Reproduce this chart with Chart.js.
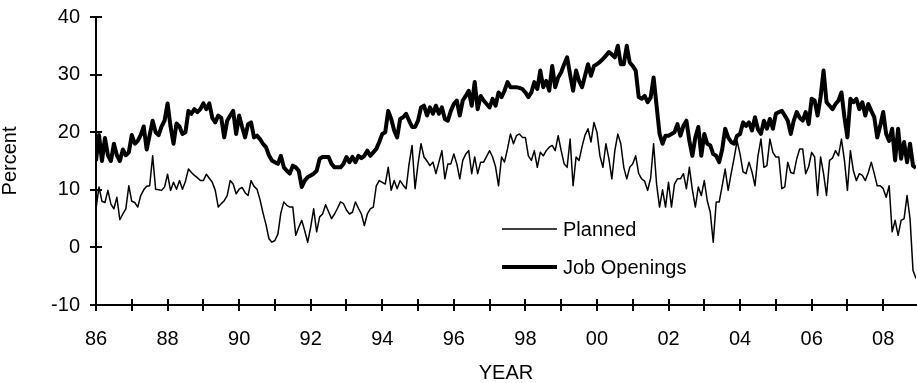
<!DOCTYPE html>
<html>
<head>
<meta charset="utf-8">
<script src="https://cdn.jsdelivr.net/npm/chart.js@4.4.0/dist/chart.umd.min.js"></script>
<style>
  html, body { margin: 0; padding: 0; background: #fff; }
  #wrap { width: 917px; height: 383px; }
</style>
</head>
<body>
<div id="wrap"><canvas id="chart" width="917" height="383"></canvas></div>
<script>
// Monthly series, January 1986 through December 2008 (one row per year).
const planned = [
  6.7, 10.5, 8.0, 7.8, 9.9, 7.5, 6.7, 8.7, 4.8, 5.8, 6.7, 10.7,        // 1986
  8.0, 7.8, 7.0, 9.0, 10.0, 10.6, 10.7, 15.9, 10.1, 10.0, 9.9, 10.5,    // 1987
  12.7, 9.9, 11.3, 10.1, 11.6, 10.1, 11.5, 13.6, 13.0, 12.5, 12.1, 11.6, // 1988
  11.6, 12.7, 12.0, 11.3, 9.9, 7.0, 7.6, 8.1, 9.0, 11.6, 11.0, 9.3,     // 1989
  10.1, 10.4, 9.5, 9.0, 11.6, 10.6, 10.1, 8.3, 6.0, 4.0, 1.5, 0.9,      // 1990
  1.2, 2.3, 6.0, 7.9, 7.3, 7.0, 7.0, 2.1, 3.5, 4.7, 2.9, 0.9,           // 1991
  3.5, 6.7, 2.7, 5.3, 5.8, 7.4, 6.2, 5.0, 5.8, 6.8, 7.9, 7.6,           // 1992
  6.5, 5.8, 6.1, 7.9, 6.8, 5.8, 3.8, 5.8, 6.7, 7.0, 10.7, 11.6,         // 1993
  11.3, 11.0, 13.9, 9.9, 11.6, 10.2, 11.6, 10.8, 10.2, 14.5, 17.7, 10.2, // 1994
  14.5, 18.0, 15.7, 15.0, 14.2, 14.8, 12.8, 14.8, 16.8, 11.9, 14.5, 14.5, // 1995
  16.2, 14.5, 11.9, 15.1, 16.2, 16.8, 12.8, 15.7, 12.8, 14.8, 14.8, 15.8, // 1996
  16.8, 15.7, 14.0, 10.7, 15.7, 14.8, 17.1, 19.7, 18.0, 19.4, 19.7, 19.1, // 1997
  19.1, 15.9, 15.1, 16.8, 13.9, 16.5, 15.9, 16.8, 17.4, 17.7, 16.8, 19.4, // 1998
  16.8, 14.5, 13.9, 18.8, 10.7, 15.7, 15.1, 17.5, 19.5, 20.6, 18.3, 21.7, // 1999
  20.0, 15.9, 13.9, 18.0, 15.4, 11.9, 16.8, 19.7, 18.0, 13.9, 11.9, 13.9, // 2000
  14.5, 15.9, 12.8, 11.9, 11.5, 9.9, 12.0, 18.0, 11.0, 7.0, 10.0, 7.0,   // 2001
  11.3, 7.0, 11.0, 11.9, 11.9, 12.8, 10.2, 13.9, 10.0, 7.0, 10.5, 9.0,   // 2002
  11.6, 8.1, 6.1, 0.9, 7.9, 7.9, 10.7, 13.6, 9.9, 12.8, 15.5, 18.5,     // 2003
  16.2, 13.1, 12.8, 14.8, 13.1, 10.7, 15.9, 18.8, 13.9, 14.2, 18.8, 16.5, // 2004
  15.7, 15.7, 10.2, 10.5, 14.8, 13.0, 12.8, 15.4, 17.1, 17.1, 12.8, 14.0, // 2005
  16.5, 15.7, 9.0, 15.7, 12.8, 9.0, 15.1, 15.5, 16.8, 15.9, 18.8, 15.1,  // 2006
  9.9, 16.8, 13.3, 11.6, 12.8, 12.5, 11.6, 13.0, 14.8, 12.8, 10.7, 10.7, // 2007
  10.2, 8.7, 10.7, 2.7, 4.7, 2.1, 4.7, 5.0, 9.0, 5.0, -4.0, -5.4         // 2008
];

const jobOpenings = [
  15.0, 19.5, 15.0, 19.0, 16.0, 15.0, 18.0, 16.0, 15.0, 17.0, 16.0, 16.5, // 1986
  19.5, 18.0, 18.5, 19.5, 21.0, 17.0, 19.5, 22.0, 20.0, 19.5, 21.0, 22.0, // 1987
  25.0, 21.0, 18.0, 21.5, 21.0, 19.7, 20.0, 23.7, 23.2, 24.0, 23.5, 24.0, // 1988
  25.0, 24.0, 25.0, 22.5, 21.7, 22.9, 22.5, 19.1, 22.0, 22.9, 23.7, 19.7, // 1989
  22.9, 20.9, 19.1, 21.4, 21.7, 19.1, 19.4, 18.8, 18.0, 17.4, 16.0, 15.1, // 1990
  14.8, 14.5, 15.9, 13.9, 13.3, 12.8, 14.2, 13.9, 13.3, 10.5, 11.6, 12.2, // 1991
  12.5, 12.8, 13.3, 15.4, 15.7, 15.7, 15.7, 14.5, 13.9, 13.9, 13.9, 14.5, // 1992
  15.7, 14.8, 15.7, 14.8, 15.9, 15.5, 15.9, 16.8, 15.9, 16.5, 17.1, 18.3, // 1993
  19.7, 20.0, 23.7, 22.3, 20.3, 19.1, 22.3, 22.6, 23.2, 22.0, 20.9, 20.9, // 1994
  22.0, 24.3, 24.6, 22.9, 24.3, 23.2, 24.6, 23.2, 24.3, 22.3, 22.0, 23.7, // 1995
  24.9, 25.5, 22.9, 25.5, 26.3, 27.2, 24.6, 28.7, 24.0, 26.3, 25.5, 24.9, // 1996
  24.3, 25.8, 24.6, 26.9, 26.1, 27.2, 28.7, 27.8, 27.8, 27.8, 27.7, 27.5, // 1997
  26.9, 26.1, 26.9, 28.7, 27.5, 30.7, 27.8, 28.9, 27.2, 31.5, 27.8, 29.5, // 1998
  30.4, 31.8, 33.0, 30.0, 27.2, 30.7, 28.9, 27.8, 29.8, 31.8, 29.8, 31.5, // 1999
  31.8, 32.2, 32.7, 33.3, 33.9, 33.5, 33.0, 35.0, 31.8, 31.8, 35.0, 32.1, // 2000
  31.5, 30.7, 26.1, 25.8, 26.3, 25.2, 26.0, 29.5, 24.6, 19.7, 18.0, 19.4, // 2001
  19.4, 19.7, 20.0, 21.4, 19.4, 21.1, 22.0, 18.5, 15.9, 19.1, 20.9, 15.9, // 2002
  19.7, 18.0, 17.7, 16.2, 15.9, 14.8, 17.0, 20.6, 19.1, 18.3, 18.0, 19.4, // 2003
  19.7, 21.7, 21.1, 21.7, 20.3, 22.6, 20.5, 19.7, 22.0, 20.6, 22.3, 20.6, // 2004
  23.2, 23.5, 23.7, 22.9, 22.0, 19.7, 22.0, 23.5, 22.5, 22.0, 23.5, 21.4, // 2005
  25.8, 25.5, 22.9, 26.1, 30.7, 25.2, 24.6, 24.0, 24.9, 25.5, 26.9, 22.6, // 2006
  19.1, 25.8, 25.2, 25.8, 24.0, 25.2, 22.9, 24.9, 23.7, 22.6, 19.1, 21.1, // 2007
  23.5, 19.7, 18.5, 20.6, 15.1, 20.6, 15.4, 18.3, 14.8, 18.0, 14.2, 13.8  // 2008
];

// Labels shown under every second yearly tick
const yearLabels = ['86', '88', '90', '92', '94', '96', '98', '00', '02', '04', '06', '08'];
const seriesNames = ['Planned', 'Job Openings'];

// Month index along the horizontal axis (0 = Jan 1986)
const monthIndex = planned.map((_, i) => i);

const FONT = 'Liberation Sans, Arial, sans-serif';
const FONT_SIZE = 20;
Chart.defaults.color = '#000';
Chart.defaults.font.family = FONT;
Chart.defaults.font.size = FONT_SIZE;

// Tick marks that cross both axis lines
const crossTicks = {
  id: 'crossTicks',
  afterDraw(chart) {
    const { ctx, chartArea, scales } = chart;
    ctx.save();
    ctx.strokeStyle = '#000';
    ctx.lineWidth = 2;
    ctx.beginPath();
    scales.x.ticks.forEach(t => {
      const px = Math.round(scales.x.getPixelForValue(t.value));
      ctx.moveTo(px, chartArea.bottom - 6);
      ctx.lineTo(px, chartArea.bottom + 6);
    });
    scales.y.ticks.forEach(t => {
      const py = Math.round(scales.y.getPixelForValue(t.value));
      ctx.moveTo(chartArea.left - 6, py);
      ctx.lineTo(chartArea.left + 6, py);
    });
    ctx.stroke();
    ctx.restore();
  }
};

// Legend drawn inside the plot area
const innerLegend = {
  id: 'innerLegend',
  afterDraw(chart) {
    const { ctx } = chart;
    const rows = [229, 267];
    ctx.save();
    chart.data.datasets.forEach((ds, i) => {
      const y = rows[i];
      ctx.strokeStyle = ds.borderColor;
      ctx.lineWidth = ds.borderWidth;
      ctx.lineCap = 'butt';
      ctx.beginPath();
      ctx.moveTo(502, y);
      ctx.lineTo(557, y);
      ctx.stroke();
      ctx.fillStyle = '#000';
      ctx.font = FONT_SIZE + 'px ' + FONT;
      ctx.textAlign = 'left';
      ctx.textBaseline = 'middle';
      ctx.fillText(ds.label, 563, y + 1);
    });
    ctx.restore();
  }
};

new Chart(document.getElementById('chart'), {
  type: 'line',
  data: {
    labels: monthIndex,
    datasets: [
      {
        label: seriesNames[0],
        data: planned,
        borderColor: '#000',
        borderWidth: 1.5,
        pointRadius: 0,
        tension: 0,
        borderJoinStyle: 'round'
      },
      {
        label: seriesNames[1],
        data: jobOpenings,
        borderColor: '#000',
        borderWidth: 4,
        pointRadius: 0,
        tension: 0,
        borderJoinStyle: 'round'
      }
    ]
  },
  options: {
    responsive: false,
    animation: false,
    events: [],
    layout: { padding: { top: 17, right: 1, left: 0, bottom: 0 } },
    plugins: {
      legend: { display: false },
      tooltip: { enabled: false }
    },
    scales: {
      x: {
        type: 'linear',
        min: 0,
        max: 275,
        afterFit: s => { s.height = 78; },
        grid: { drawOnChartArea: false, drawTicks: true, tickLength: 20, tickColor: 'rgba(0,0,0,0)' },
        border: { display: true, color: '#000', width: 2 },
        ticks: {
          stepSize: 12,
          autoSkip: false,
          maxRotation: 0,
          includeBounds: false,
          padding: 2,
          color: '#000',
          callback: v => (v % 24 === 0 ? yearLabels[v / 24] : '')
        },
        title: {
          display: true,
          text: 'YEAR',
          color: '#000',
          padding: { top: 0, bottom: -2 }
        }
      },
      y: {
        min: -10,
        max: 40,
        afterFit: s => { s.width = 96; },
        grid: { drawOnChartArea: false, drawTicks: true, tickLength: 14, tickColor: 'rgba(0,0,0,0)' },
        border: { display: true, color: '#000', width: 2 },
        ticks: {
          stepSize: 10,
          padding: 2,
          color: '#000'
        },
        title: {
          display: true,
          text: 'Percent',
          color: '#000',
          padding: { top: -2, bottom: 0 }
        }
      }
    }
  },
  plugins: [crossTicks, innerLegend]
});
</script>
</body>
</html>
